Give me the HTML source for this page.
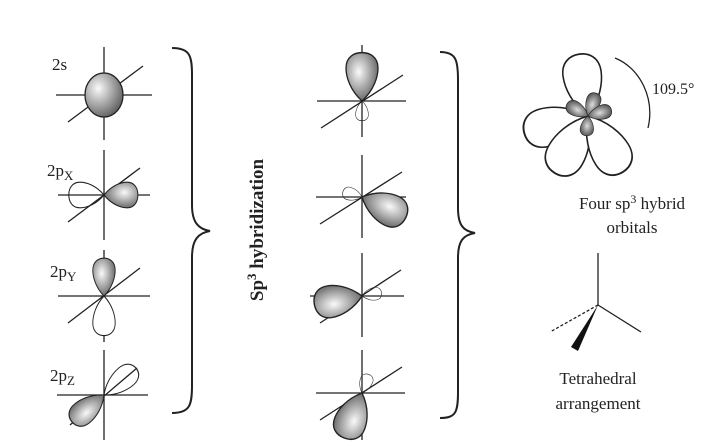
<!DOCTYPE html>
<html><head><meta charset="utf-8"><style>
html,body{margin:0;padding:0;background:#fff;}
svg{display:block;font-family:"Liberation Serif",serif;}
</style></head><body>
<svg width="719" height="446" viewBox="0 0 719 446" xmlns="http://www.w3.org/2000/svg">
<defs>
<radialGradient id="g" cx="0.6" cy="0.4" r="0.7"><stop offset="0" stop-color="#fafafa"/><stop offset="1" stop-color="#555"/></radialGradient>
<radialGradient id="g2" cx="0.35" cy="0.35" r="0.75"><stop offset="0" stop-color="#fafafa"/><stop offset="1" stop-color="#555"/></radialGradient>
<radialGradient id="g3" cx="0.5" cy="0.5" r="0.6"><stop offset="0" stop-color="#ddd"/><stop offset="1" stop-color="#444"/></radialGradient>
<path id="lobe" d="M0 0 C10 -12 22 -16 30 -16 C40 -16 44 -8 44 0 C44 8 40 16 30 16 C22 16 10 12 0 0Z"/>
</defs>
<g stroke="#222" stroke-width="1.3" fill="none">
<line x1="104" y1="47" x2="104" y2="140"/><line x1="56" y1="95" x2="152" y2="95"/><line x1="68" y1="122" x2="143" y2="66"/>
<ellipse cx="104" cy="95" rx="19" ry="22" fill="url(#g2)"/>
<line x1="104" y1="150" x2="104" y2="240"/><line x1="58" y1="195" x2="150" y2="195"/><line x1="68" y1="222" x2="140" y2="168"/>
<use href="#lobe" transform="translate(104,195) scale(0.77,0.8)" fill="url(#g)"/>
<use href="#lobe" transform="translate(104,195) rotate(180) scale(0.8,0.8)" fill="none"/>
<line x1="104" y1="250" x2="104" y2="342"/><line x1="58" y1="296" x2="150" y2="296"/><line x1="68" y1="323" x2="140" y2="268"/>
<use href="#lobe" transform="translate(104,296) rotate(-90) scale(0.86,0.7)" fill="url(#g)"/>
<use href="#lobe" transform="translate(104,296) rotate(90) scale(0.9,0.7)" fill="#fff"/>
<line x1="104" y1="350" x2="104" y2="440"/><line x1="57" y1="395" x2="148" y2="395"/><line x1="70" y1="425" x2="137" y2="368"/>
<use href="#lobe" transform="translate(104,395) rotate(-40) scale(0.95,0.7)" fill="none"/>
<use href="#lobe" transform="translate(104,395) rotate(140) scale(0.95,0.75)" fill="url(#g)"/>
<path d="M172 48 C190 48 192 56 192 75 L192 205 C192 222 198 229 210 231 C198 233 192 240 192 257 L192 385 C192 405 190 413 172 413" stroke-width="2"/>
<line x1="362" y1="45" x2="362" y2="137"/><line x1="317" y1="101" x2="406" y2="101"/><line x1="321" y1="128" x2="403" y2="75"/>
<use href="#lobe" transform="translate(362,101) rotate(-90) scale(1.1,1)" fill="url(#g)"/>
<use href="#lobe" transform="translate(362,101) rotate(90) scale(0.45,0.4)" fill="none"/>
<line x1="362" y1="155" x2="362" y2="238"/><line x1="316" y1="197" x2="406" y2="197"/><line x1="320" y1="224" x2="402" y2="172"/>
<use href="#lobe" transform="translate(362,197) rotate(25) scale(1.1,1)" fill="url(#g)"/>
<use href="#lobe" transform="translate(362,197) rotate(195) scale(0.45,0.4)" fill="none"/>
<line x1="362" y1="253" x2="362" y2="337"/><line x1="310" y1="296" x2="404" y2="296"/><line x1="320" y1="323" x2="401" y2="270"/>
<use href="#lobe" transform="translate(362,296) rotate(170) scale(1.1,1)" fill="url(#g)"/>
<use href="#lobe" transform="translate(362,296) rotate(-10) scale(0.45,0.4)" fill="none"/>
<line x1="362" y1="350" x2="362" y2="440"/><line x1="316" y1="393" x2="405" y2="393"/><line x1="320" y1="420" x2="402" y2="367"/>
<use href="#lobe" transform="translate(362,393) rotate(112) scale(1.1,1)" fill="url(#g)"/>
<use href="#lobe" transform="translate(362,393) rotate(-70) scale(0.45,0.4)" fill="none"/>
<path d="M440 52 C456 52 458 60 458 80 L458 208 C458 225 463 231 475 233 C463 235 458 241 458 258 L458 392 C458 412 456 418 440 418" stroke-width="2"/>
<use href="#lobe" transform="translate(588,116) rotate(-98) scale(1.42,1.2)" fill="#fff"/>
<use href="#lobe" transform="translate(588,116) rotate(165) scale(1.5,1.2)" fill="#fff"/>
<use href="#lobe" transform="translate(588,116) rotate(120) scale(1.5,1.2)" fill="#fff"/>
<use href="#lobe" transform="translate(588,116) rotate(58) scale(1.5,1.2)" fill="#fff"/>
<use href="#lobe" transform="translate(588,116) rotate(-150) scale(0.55,0.45)" fill="url(#g3)"/>
<use href="#lobe" transform="translate(588,116) rotate(-70) scale(0.55,0.45)" fill="url(#g3)"/>
<use href="#lobe" transform="translate(588,116) rotate(-15) scale(0.55,0.45)" fill="url(#g3)"/>
<use href="#lobe" transform="translate(588,116) rotate(95) scale(0.45,0.42)" fill="url(#g3)"/>
<path d="M615 58 C640 68 655 98 648 128"/>
<line x1="598" y1="253" x2="598" y2="305"/><line x1="598" y1="305" x2="641" y2="332"/>
<line x1="598" y1="305" x2="550" y2="332" stroke-dasharray="3,2"/>
</g>
<path d="M598 305 L571 347 L578 351 Z" fill="#111"/>
<g fill="#222" font-size="17">
<text x="52" y="70">2s</text>
<text x="47" y="176">2p<tspan font-size="13" dy="4">X</tspan></text>
<text x="50" y="277">2p<tspan font-size="13" dy="4">Y</tspan></text>
<text x="50" y="381">2p<tspan font-size="13" dy="4">Z</tspan></text>
<text x="652" y="94" font-size="16">109.5°</text>
<text x="632" y="209" text-anchor="middle">Four sp<tspan font-size="12" dy="-6">3</tspan><tspan dy="6"> hybrid</tspan></text>
<text x="632" y="233" text-anchor="middle">orbitals</text>
<text x="598" y="384" text-anchor="middle">Tetrahedral</text>
<text x="598" y="409" text-anchor="middle">arrangement</text>
<text transform="translate(263,230) rotate(-90)" text-anchor="middle" font-weight="bold" font-size="19">Sp<tspan font-size="13" dy="-7">3</tspan><tspan dy="7"> hybridization</tspan></text>
</g>
</svg>
</body></html>
